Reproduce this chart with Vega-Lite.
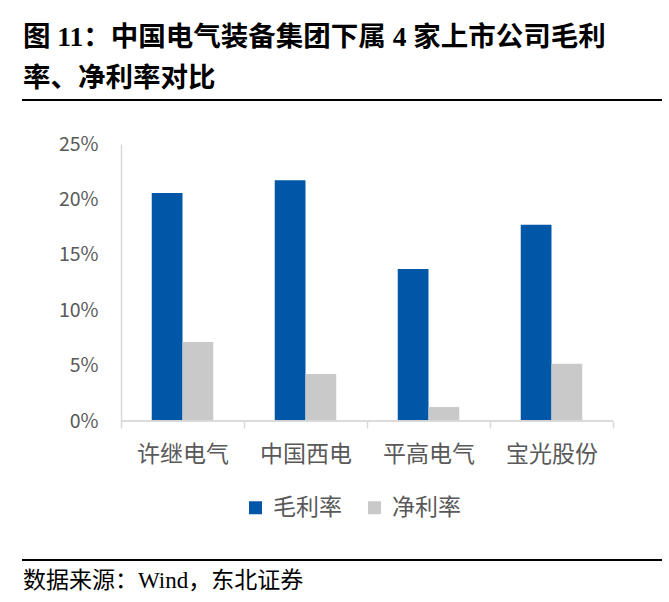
{
  "$schema": "https://vega.github.io/schema/vega-lite/v6.json",
  "padding": {"left": 22, "top": 22, "right": 9, "bottom": 4},
  "autosize": {"type": "pad"},
  "spacing": 32,
  "background": "white",
  "config": {
    "view": {"stroke": null},
    "font": "Noto Sans CJK SC"
  },
  "vconcat": [
    {
      "data": {"values": []},
      "mark": "point",
      "width": 638,
      "height": 0.01,
      "view": {"stroke": "#000000", "strokeWidth": 2},
      "title": {
        "text": ["图 11：中国电气装备集团下属 4 家上市公司毛利", "率、净利率对比"],
        "anchor": "start",
        "frame": "group",
        "font": "Liberation Serif, Noto Sans CJK SC",
        "fontSize": 27.5,
        "fontWeight": "bold",
        "color": "#000000",
        "lineHeight": 41,
        "offset": 8
      }
    },
    {
      "data": {
        "values": [
          {"company": "许继电气", "metric": "毛利率", "value": 0.2058},
          {"company": "许继电气", "metric": "净利率", "value": 0.0713},
          {"company": "中国西电", "metric": "毛利率", "value": 0.2172},
          {"company": "中国西电", "metric": "净利率", "value": 0.0424},
          {"company": "平高电气", "metric": "毛利率", "value": 0.1372},
          {"company": "平高电气", "metric": "净利率", "value": 0.0126},
          {"company": "宝光股份", "metric": "毛利率", "value": 0.1772},
          {"company": "宝光股份", "metric": "净利率", "value": 0.0517}
        ]
      },
      "width": 638,
      "height": 277,
      "encoding": {
        "x": {
          "field": "company",
          "type": "nominal",
          "sort": ["许继电气", "中国西电", "平高电气", "宝光股份"],
          "scale": {"paddingInner": 0, "paddingOuter": 0.5935, "align": 0.6712},
          "axis": {
            "title": null,
            "labelAngle": 0,
            "labelFontSize": 23,
            "labelColor": "#595959",
            "labelPadding": 15,
            "domain": false,
            "ticks": true,
            "tickBand": "extent",
            "tickSize": 7,
            "tickColor": "#D9D9D9",
            "tickWidth": 1.5,
            "minExtent": 106,
            "maxExtent": 106
          }
        }
      },
      "layer": [
        {
          "mark": {"type": "bar"},
          "encoding": {
            "xOffset": {
              "field": "metric",
              "type": "nominal",
              "sort": ["毛利率", "净利率"],
              "scale": {"paddingInner": 0, "paddingOuter": 1.12}
            },
            "y": {
              "field": "value",
              "type": "quantitative",
              "scale": {"domain": [0, 0.25], "nice": false},
              "axis": {
                "title": null,
                "format": ".0%",
                "values": [0, 0.05, 0.1, 0.15, 0.2, 0.25],
                "grid": false,
                "ticks": false,
                "offset": -98,
                "domainColor": "#D9D9D9",
                "domainWidth": 1.5,
                "labelFontSize": 19.5,
                "labelColor": "#595959",
                "labelPadding": 23
              }
            },
            "color": {
              "field": "metric",
              "type": "nominal",
              "sort": ["毛利率", "净利率"],
              "scale": {"domain": ["毛利率", "净利率"], "range": ["#0057A8", "#C9C9C9"]},
              "legend": {
                "title": null,
                "orient": "none",
                "direction": "horizontal",
                "legendX": 221,
                "legendY": 396,
                "padding": 0,
                "symbolType": "square",
                "symbolSize": 169,
                "symbolStrokeWidth": 0,
                "labelFontSize": 23,
                "labelColor": "#595959",
                "labelOffset": 6,
                "columnPadding": 21
              }
            }
          }
        },
        {
          "mark": {"type": "bar", "fillOpacity": 0, "stroke": "#D9D9D9", "strokeWidth": 1.5},
          "encoding": {
            "y": {"datum": 0},
            "y2": {"datum": 0}
          }
        }
      ]
    },
    {
      "data": {"values": []},
      "mark": "point",
      "width": 638,
      "height": 0.01,
      "view": {"stroke": "#000000", "strokeWidth": 2},
      "title": {
        "text": "数据来源：Wind，东北证券",
        "orient": "bottom",
        "anchor": "start",
        "frame": "group",
        "font": "Liberation Serif, Noto Sans CJK SC",
        "fontSize": 23,
        "fontWeight": "normal",
        "color": "#000000",
        "offset": 10
      }
    }
  ]
}
